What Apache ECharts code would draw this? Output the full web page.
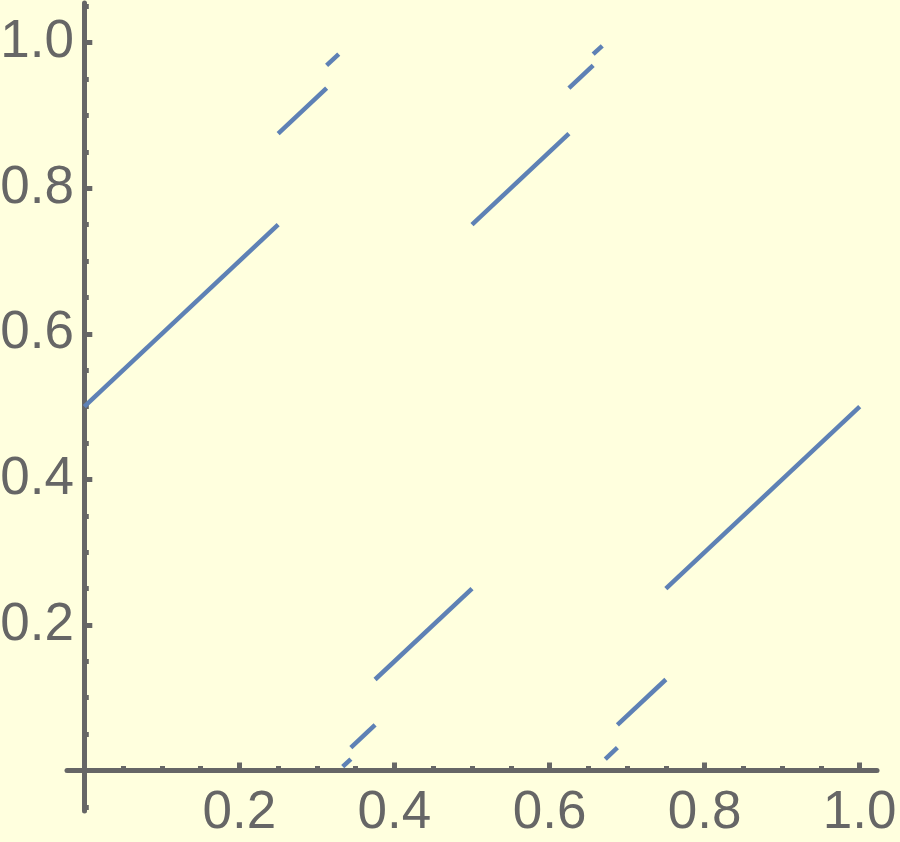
<!DOCTYPE html>
<html>
<head>
<meta charset="utf-8">
<script src="https://cdn.jsdelivr.net/npm/echarts@6/dist/echarts.min.js"></script>
<style>
    html, body { margin: 0; padding: 0; background: #ffffde; }
    #chart { width: 900px; height: 842px; }
</style>
</head>
<body>
<div id="chart"></div>
<script>
// segments (x from, y from, x to, y to)
const segStartX = [0, 0.25, 0.3125, 0.3333, 0.34375, 0.375, 0.5, 0.625, 0.65625, 0.671875, 0.6875, 0.75];
const segStartY = [0.5, 0.875, 0.96875, 0.0052, 0.03125, 0.125, 0.75, 0.9375, 0.984375, 0.015625, 0.0625, 0.25];
const segEndX = [0.25, 0.3125, 0.328125, 0.34375, 0.375, 0.5, 0.625, 0.65625, 0.668, 0.6875, 0.75, 1];
const segEndY = [0.75, 0.9375, 0.984375, 0.015625, 0.0625, 0.25, 0.875, 0.96875, 0.9958, 0.03125, 0.125, 0.5];

const xMajorTicks = [0.2, 0.4, 0.6, 0.8, 1.0];
const yMajorTicks = [0.2, 0.4, 0.6, 0.8, 1.0];
const xMinorTicks = [0.05, 0.1, 0.15, 0.25, 0.3, 0.35, 0.45, 0.5, 0.55, 0.65, 0.7, 0.75, 0.85, 0.9, 0.95];
const yMinorTicks = [-0.05, 0.05, 0.1, 0.15, 0.25, 0.3, 0.35, 0.45, 0.5, 0.55, 0.65, 0.7, 0.75, 0.85, 0.9, 0.95, 1.05];

const axisColor = '#666666';
const lineColor = '#5e81b5';

let chartDom = document.getElementById('chart');
let chart = echarts.init(chartDom);

// labels are laid out from the grid edge, not the zero line, so margins are pulled back
function majorAxis(ticks, min, max, isX) {
    return {
        type: 'value',
        min: min,
        max: max,
        position: isX ? 'bottom' : 'left',
        axisLine: {
            show: true,
            onZero: true,
            onZeroAxisIndex: 0,
            lineStyle: { color: axisColor, width: 5 }
        },
        axisTick: {
            show: true,
            inside: true,
            length: 8,
            customValues: ticks,
            lineStyle: { color: axisColor, width: 5 }
        },
        axisLabel: {
            show: true,
            customValues: ticks,
            margin: isX ? -24 : -7,
            color: axisColor,
            fontSize: 53,
            fontFamily: 'Liberation Sans',
            formatter: v => v.toFixed(1)
        },
        splitLine: { show: false }
    };
}

function minorAxis(ticks, min, max, isX) {
    return {
        type: 'value',
        min: min,
        max: max,
        position: isX ? 'bottom' : 'left',
        axisLine: {
            show: false,
            onZero: true,
            onZeroAxisIndex: 0
        },
        axisTick: {
            show: true,
            inside: true,
            length: 4.5,
            customValues: ticks,
            lineStyle: { color: axisColor, width: 5 }
        },
        axisLabel: { show: false },
        splitLine: { show: false }
    };
}

let series = segStartX.map((x0, i) => ({
    type: 'line',
    xAxisIndex: 0,
    yAxisIndex: 0,
    symbol: 'none',
    silent: true,
    lineStyle: { color: lineColor, width: 4.5, cap: 'butt' },
    data: [[x0, segStartY[i]], [segEndX[i], segEndY[i]]]
}));

let option = {
    backgroundColor: '#ffffde',
    animation: false,
    grid: {
        left: 67,
        top: 3,
        width: 810,
        height: 808,
        outerBoundsMode: 'none'
    },
    xAxis: [
        majorAxis(xMajorTicks, -0.0223, 1.0223, true),
        minorAxis(xMinorTicks, -0.0223, 1.0223, true)
    ],
    yAxis: [
        majorAxis(yMajorTicks, -0.0557, 1.0546, false),
        minorAxis(yMinorTicks, -0.0557, 1.0546, false)
    ],
    series: series
};

chart.setOption(option);
</script>
</body>
</html>
